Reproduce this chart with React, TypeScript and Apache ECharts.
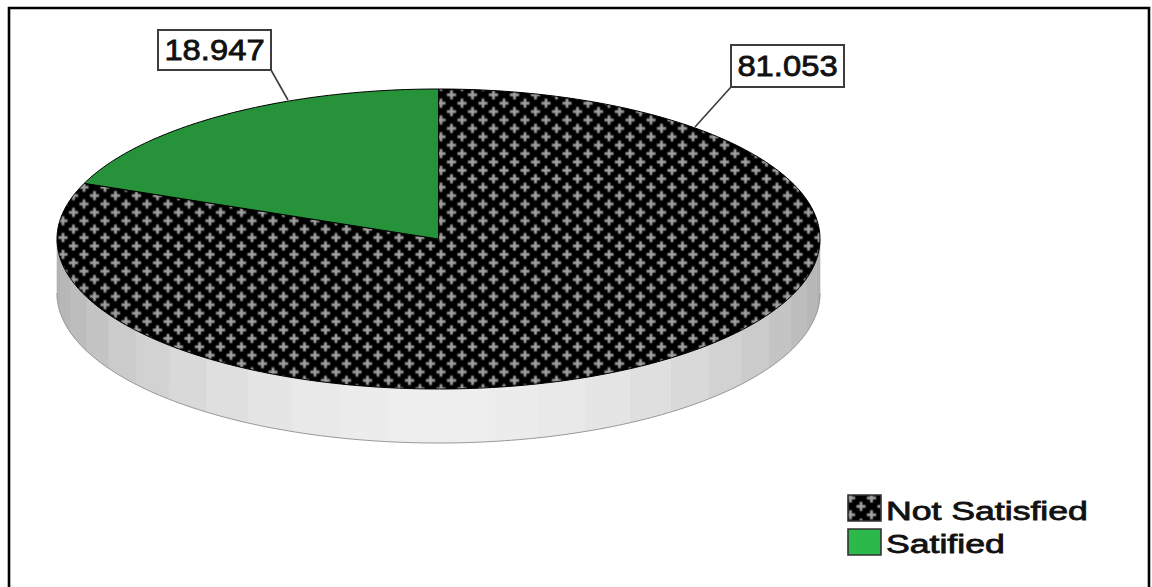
import React, { useEffect, useRef } from "react";
import * as echarts from "echarts";

// Survey result shown as a tilted pie
const categories = ["Not Satisfied", "Satified"];
const values = [81.053, 18.947];

const WIDTH = 1152;
const HEIGHT = 587;
const FONT = '"Liberation Sans", Arial, sans-serif';

// Disc geometry
const CX = 438.5;
const CY = 239;
const RX = 381.5;
const RY = 150;
const DEPTH = 54;
const BAND_DEG = 7.5;

// Callout placement, same order as the categories
const calloutBoxes = [
  { x: 731, y: 45, w: 113, h: 42, fromX: 731, fromY: 87, toX: 695, toY: 127 },
  { x: 158, y: 30, w: 113, h: 40, fromX: 271, fromY: 70, toX: 288, toY: 100 },
];
const legendRows = [
  { y: 495, h: 26, textY: 511 },
  { y: 529, h: 26, textY: 544.5 },
];

const PIE_GREEN = "#26933a";
const LEGEND_GREEN = "#2db84c";

// Angles are clockwise from twelve o'clock, measured on the ellipse parameter.
function rimPoint(deg: number, dy = 0): [number, number] {
  const t = (deg * Math.PI) / 180;
  return [CX + RX * Math.sin(t), CY - RY * Math.cos(t) + dy];
}

function arcPoints(from: number, to: number, dy = 0): [number, number][] {
  const pts: [number, number][] = [];
  const steps = Math.max(1, Math.ceil(Math.abs(to - from)));
  for (let i = 0; i <= steps; i++) pts.push(rimPoint(from + ((to - from) * i) / steps, dy));
  return pts;
}

// Black tile with two staggered grey plus signs, drawn at 5x and scaled back down.
function crossTile(): string {
  const S = 5;
  const W = 21 * S;
  const H = 16.8 * S;
  const canvas = document.createElement("canvas");
  canvas.width = W;
  canvas.height = H;
  const ctx = canvas.getContext("2d")!;
  ctx.fillStyle = "#000";
  ctx.fillRect(0, 0, W, H);
  ctx.filter = `blur(${0.5 * S}px)`;
  ctx.fillStyle = "#a0a0a0";
  const arm = 4.6 * S;
  const half = 1.45 * S;
  const plus = (x: number, y: number) => {
    ctx.fillRect(x - arm, y - half, arm * 2, half * 2);
    ctx.fillRect(x - half, y - arm, half * 2, arm * 2);
  };
  const centres = [
    [0, 2.4 * S],
    [10.5 * S, 10.8 * S],
  ];
  for (const [x, y] of centres) {
    for (const ox of [-W, 0, W]) {
      for (const oy of [-H, 0, H]) plus(x + ox, y + oy);
    }
  }
  return canvas.toDataURL();
}

function bandGrey(mid: number): string {
  const off = (Math.abs(mid - 180) * Math.PI) / 180;
  const g = Math.round(178 + 60 * Math.pow(Math.max(0, Math.cos(off)), 1.5));
  return `rgb(${g},${g},${g})`;
}

export default function App() {
  const ref = useRef<HTMLDivElement>(null);

  useEffect(() => {
    document.body.style.margin = "0";
    const chart = echarts.init(ref.current!, null, { renderer: "svg" });
    const total = values.reduce((a, b) => a + b, 0);
    const starts: number[] = [];
    values.reduce((acc, v, i) => {
      starts[i] = acc;
      return acc + (v / total) * 360;
    }, 0);

    const tile = crossTile();
    const crossFill = () => ({
      image: tile,
      repeat: "repeat",
      imageWidth: 105,
      imageHeight: 84,
      scaleX: 0.2,
      scaleY: 0.2,
    });
    const fills = [crossFill(), PIE_GREEN];
    const legendFills = [crossFill(), LEGEND_GREEN];

    // Side wall of the disc: shaded facets along the front half of the rim.
    const wallFacets: number[] = [];
    for (let a = 90; a < 270; a += BAND_DEG) wallFacets.push(a);

    const option: any = {
      animation: false,
      backgroundColor: "#fff",
      series: [
        {
          type: "custom",
          coordinateSystem: "none",
          silent: true,
          z: 1,
          data: wallFacets.map((a) => [a]),
          renderItem: (_p: any, api: any) => {
            const a = api.value(0);
            const b = a + BAND_DEG;
            const top = arcPoints(a, b);
            const bottom = arcPoints(b, a, DEPTH);
            const grey = bandGrey(a + BAND_DEG / 2);
            return {
              type: "polygon",
              shape: { points: [...top, ...bottom] },
              style: { fill: grey, stroke: grey, lineWidth: 0.6 },
            };
          },
        },
        {
          type: "custom",
          coordinateSystem: "none",
          silent: true,
          z: 2,
          data: [[0]],
          renderItem: () => ({
            type: "polyline",
            shape: { points: arcPoints(90, 270, DEPTH) },
            style: { fill: "none", stroke: "#9a9a9a", lineWidth: 1 },
          }),
        },
        {
          type: "custom",
          coordinateSystem: "none",
          silent: true,
          z: 3,
          data: values.map((v) => [v]),
          renderItem: (p: any, api: any) => {
            const i = p.dataIndex;
            const from = starts[i];
            const to = from + (api.value(0) / total) * 360;
            return {
              type: "polygon",
              shape: { points: [[CX, CY], ...arcPoints(from, to)] },
              style: { fill: fills[i], stroke: "#000", lineWidth: 1 },
            };
          },
        },
        {
          type: "custom",
          coordinateSystem: "none",
          silent: true,
          z: 4,
          data: values.map((v) => [v]),
          renderItem: (p: any, api: any) => {
            const box = calloutBoxes[p.dataIndex];
            return {
              type: "group",
              children: [
                {
                  type: "line",
                  shape: { x1: box.fromX, y1: box.fromY, x2: box.toX, y2: box.toY },
                  style: { stroke: "#3c3c3c", lineWidth: 1.6 },
                },
                {
                  type: "rect",
                  shape: { x: box.x, y: box.y, width: box.w, height: box.h },
                  style: { fill: "#fff", stroke: "#3c3c3c", lineWidth: 2 },
                },
                {
                  type: "text",
                  x: box.x + box.w / 2,
                  y: box.y + box.h / 2,
                  scaleX: 1.13,
                  style: {
                    text: api.value(0).toFixed(3),
                    fontFamily: FONT,
                    fontSize: 29,
                    fill: "#111",
                    stroke: "#111",
                    lineWidth: 0.8,
                    textAlign: "center",
                    textVerticalAlign: "middle",
                  },
                },
              ],
            };
          },
        },
      ],
      graphic: {
        elements: [
          {
            type: "polyline",
            silent: true,
            shape: { points: [[9, HEIGHT], [9, 8], [1149, 8], [1149, HEIGHT]] },
            style: { fill: "none", stroke: "#000", lineWidth: 2.6 },
          },
          ...categories.flatMap((name, i) => [
            {
              type: "rect",
              silent: true,
              shape: { x: 848, y: legendRows[i].y, width: 33, height: legendRows[i].h },
              style: { fill: legendFills[i], stroke: "#333", lineWidth: 1.6 },
            },
            {
              type: "text",
              silent: true,
              x: 886,
              y: legendRows[i].textY,
              scaleX: 1.37,
              style: {
                text: name,
                fontFamily: FONT,
                fontSize: 26,
                fill: "#111",
                stroke: "#111",
                lineWidth: 0.8,
                textAlign: "left",
                textVerticalAlign: "middle",
              },
            },
          ]),
        ],
      },
    };

    chart.setOption(option);
    return () => chart.dispose();
  }, []);

  return <div ref={ref} style={{ width: WIDTH, height: HEIGHT }} />;
}
